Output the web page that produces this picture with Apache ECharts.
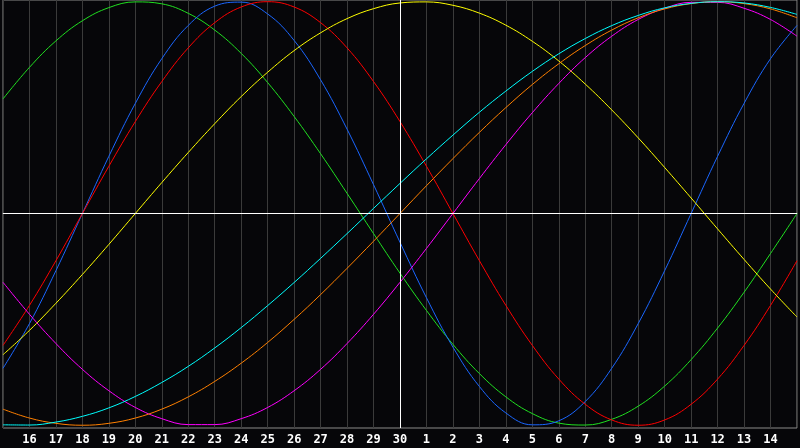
<!DOCTYPE html>
<html>
<head>
<meta charset="utf-8">
<script src="https://cdn.jsdelivr.net/npm/echarts@6/dist/echarts.min.js"></script>
<style>
html,body{margin:0;padding:0;background:#060609;}
#chart{width:800px;height:448px;}
</style>
</head>
<body>
<div id="chart"></div>
<script>
// Day labels (index 0 = 15th, index 15 = 30th, index 30 = next 15th)
var days = ['15','16','17','18','19','20','21','22','23','24','25','26','27','28','29','30',
            '1','2','3','4','5','6','7','8','9','10','11','12','13','14','15'];

var physical = [-0.731,-0.520,-0.270,0,0.270,0.520,0.731,0.888,0.979,0.998,0.942,0.817,0.631,0.398,0.136,
                -0.136,-0.398,-0.631,-0.817,-0.942,-0.998,-0.979,-0.888,-0.731,-0.520,-0.270,0,0.270,0.520,0.731,0.888];
var emotional = [-0.623,-0.434,-0.223,0,0.223,0.434,0.623,0.782,0.901,0.975,1,0.975,0.901,0.782,0.623,
                 0.434,0.223,0,-0.223,-0.434,-0.623,-0.782,-0.901,-0.975,-1,-0.975,-0.901,-0.782,-0.623,-0.434,-0.223];
var intellectual = [0.541,0.690,0.815,0.910,0.972,0.999,0.990,0.945,0.866,0.756,0.618,0.458,0.282,0.095,-0.095,
                    -0.282,-0.458,-0.618,-0.756,-0.866,-0.945,-0.990,-0.999,-0.972,-0.910,-0.815,-0.690,-0.541,-0.372,-0.189,0];
var aesthetic = [-0.667,-0.552,-0.424,-0.288,-0.146,0,0.146,0.288,0.424,0.552,0.667,0.769,0.853,0.920,0.967,
                 0.994,0.999,0.983,0.946,0.889,0.813,0.720,0.611,0.489,0.357,0.217,0.073,-0.073,-0.217,-0.357,-0.489];
var spiritual = [-0.998,-0.999,-0.985,-0.958,-0.918,-0.864,-0.798,-0.722,-0.635,-0.539,-0.435,-0.326,-0.212,-0.095,0.024,
                 0.142,0.258,0.370,0.478,0.578,0.671,0.754,0.826,0.887,0.935,0.971,0.992,1.000,0.994,0.973,0.940];
var awareness = [-0.924,-0.966,-0.991,-1,-0.991,-0.966,-0.924,-0.866,-0.793,-0.707,-0.609,-0.5,-0.383,-0.259,-0.131,
                 0,0.131,0.259,0.383,0.5,0.609,0.707,0.793,0.866,0.924,0.966,0.991,1,0.991,0.966,0.924];
var intuitive = [-0.325,-0.476,-0.614,-0.736,-0.837,-0.916,-0.969,-0.997,-0.997,-0.969,-0.916,-0.837,-0.736,-0.614,-0.476,
                 -0.325,-0.165,0,0.165,0.325,0.476,0.614,0.736,0.837,0.916,0.969,0.997,0.997,0.969,0.916,0.837];

var curves = [
  {name:'Intellectual', data: intellectual, color:'#20e020'},
  {name:'Physical', data: physical, color:'#1a66ff'},
  {name:'Emotional', data: emotional, color:'#ff0000'},
  {name:'Aesthetic', data: aesthetic, color:'#ffff00'},
  {name:'Intuitive', data: intuitive, color:'#ff00ff'},
  {name:'Awareness', data: awareness, color:'#ff8000'},
  {name:'Spiritual', data: spiritual, color:'#00ffff'}
];

var chart = echarts.init(document.getElementById('chart'));
var series = [{
  type:'line', data:[], z:1, silent:true,
  markLine:{
    silent:true, symbol:'none', animation:false,
    label:{show:false},
    lineStyle:{color:'#ffffff', width:1, type:'solid'},
    data:[{yAxis:0},{xAxis:'30'}]
  }
}];
curves.forEach(function(c){
  series.push({
    name:c.name, type:'line', data:c.data, smooth:0.4, showSymbol:false, z:3,
    lineStyle:{color:c.color, width:1}, itemStyle:{color:c.color}, animation:false
  });
});

chart.setOption({
  backgroundColor:'#060609',
  animation:false,
  grid:{left:0, right:1, top:0, bottom:20, show:true, borderColor:'#8a8a8a', borderWidth:1, backgroundColor:'transparent'},
  xAxis:{
    type:'category', data:days, boundaryGap:false,
    axisLine:{show:true, lineStyle:{color:'#8a8a8a'}},
    axisTick:{show:false},
    splitLine:{show:true, interval:0, lineStyle:{color:'#3a3a3a', width:1}},
    axisLabel:{
      interval:0, showMinLabel:false, showMaxLabel:false, margin:6,
      color:'#ffffff', fontFamily:'DejaVu Sans Mono', fontWeight:'bold', fontSize:12,
      formatter:function(v, i){ return (i===0 || i===days.length-1) ? '' : v; }
    }
  },
  yAxis:{
    type:'value', min:-1.013, max:1.008,
    axisLine:{show:false}, axisTick:{show:false}, axisLabel:{show:false}, splitLine:{show:false}
  },
  series:series
});
</script>
</body>
</html>
